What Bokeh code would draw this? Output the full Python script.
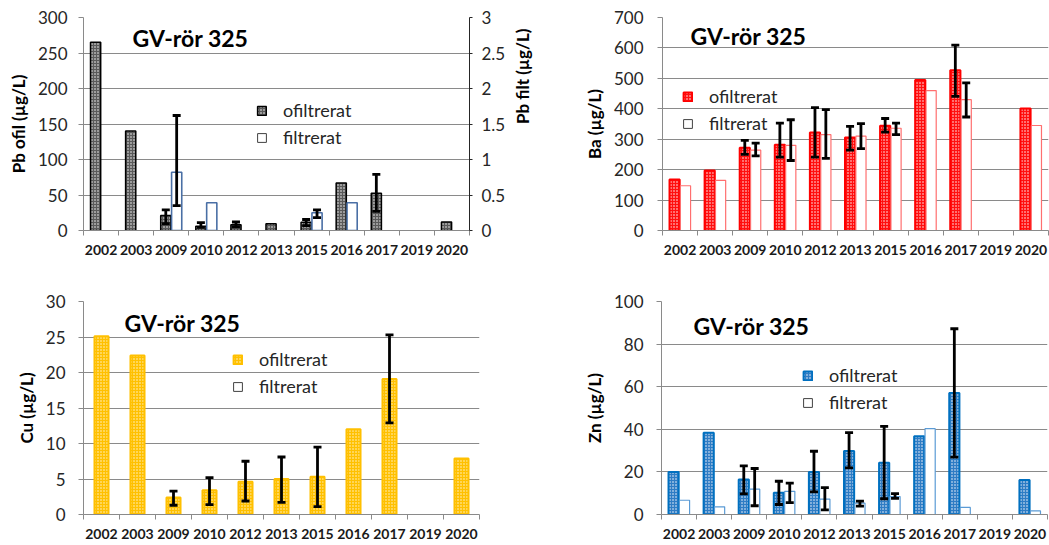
import math
from bokeh.plotting import figure
from bokeh.models import (ColumnDataSource, Range1d, LinearAxis, FixedTicker,
                          CustomJSTickFormatter, NumeralTickFormatter, Whisker,
                          TeeHead, Legend, LegendItem, Label)
from bokeh.layouts import row, column
from bokeh.embed import file_html
from bokeh.resources import INLINE

# ---------------- data ----------------
years = ["2002", "2003", "2009", "2010", "2012", "2013", "2015", "2016", "2017", "2019", "2020"]

pb_ofil = [265, 140, 21, 6, 8, 9.5, 11.5, 67, 52.5, None, 12]
pb_ofil_err = {"2009": (9.5, 29), "2010": (4.5, 11), "2012": (5, 12), "2015": (7, 15.5), "2017": (27, 79)}
pb_filt = [None, None, 0.82, 0.39, None, None, 0.25, 0.39, None, None, None]
pb_filt_err = {"2009": (0.35, 1.62), "2015": (0.18, 0.29)}

ba_ofil = [168, 197, 272, 282, 322, 306, 344, 495, 527, None, 401]
ba_ofil_err = {"2009": (250, 296), "2010": (241, 353), "2012": (241, 404), "2013": (264, 342),
               "2015": (323, 368), "2017": (441, 609)}
ba_filt = [147, 165, 264, 280, 315, 310, 336, 460, 430, None, 345]
ba_filt_err = {"2009": (245, 287), "2010": (230, 364), "2012": (237, 397), "2013": (269, 351),
               "2015": (315, 353), "2017": (373, 485)}

cu_ofil = [25.1, 22.4, 2.4, 3.4, 4.6, 5.0, 5.3, 12.0, 19.1, None, 7.9]
cu_ofil_err = {"2009": (1.3, 3.3), "2010": (1.4, 5.2), "2012": (1.9, 7.5), "2013": (1.7, 8.1),
               "2015": (1.1, 9.5), "2017": (12.9, 25.3)}

zn_ofil = [20, 38.4, 16.4, 10.2, 20, 29.8, 24.3, 36.7, 57, None, 16.2]
zn_ofil_err = {"2009": (9.7, 22.8), "2010": (4.7, 15.6), "2012": (10.6, 29.7), "2013": (21.9, 38.4),
               "2015": (7.4, 41.4), "2017": (26.9, 87.2)}
zn_filt = [6.7, 3.6, 11.9, 10.9, 7.2, 5.3, 8.4, 40.3, 3.3, None, 1.7]
zn_filt_err = {"2009": (4.1, 21.6), "2010": (5.6, 14.7), "2012": (2.2, 12.6), "2013": (3.9, 6.3),
               "2015": (7.6, 9.8)}

title_text = "GV-rör 325"
lbl_ofil = "ofiltrerat"
lbl_filt = "filtrerat"

# ---------------- styling ----------------
FONT = "Lato"
GRID = "#8a8a8a"
TXT = "#262626"
N = len(years)
BAR_W = 0.29
OFF = 0.155


def make_fig(fw, fh, bl, br, bt, bb, ymax, ytick_step, ylabel, label_standoff):
    p = figure(frame_width=fw, frame_height=fh, min_border_left=bl, min_border_right=br,
               min_border_top=bt, min_border_bottom=bb,
               x_range=Range1d(0, N), y_range=Range1d(0, ymax),
               output_backend="svg", toolbar_location=None, tools="")
    p.outline_line_color = None
    p.background_fill_color = "white"
    p.border_fill_color = "white"
    p.xgrid.grid_line_color = None

    yticks = [i * ytick_step for i in range(int(round(ymax / ytick_step)) + 1)]
    yt = FixedTicker(ticks=yticks, minor_ticks=[])
    ya = p.yaxis[0]
    ya.ticker = yt
    p.ygrid[0].ticker = yt
    p.ygrid.grid_line_color = GRID
    ya.axis_line_color = GRID
    ya.major_tick_line_color = GRID
    ya.major_tick_out = 5
    ya.major_tick_in = 0
    ya.minor_tick_line_color = None
    ya.major_label_text_font = FONT
    ya.major_label_text_font_size = "17px"
    ya.major_label_text_color = TXT
    ya.major_label_standoff = label_standoff
    ya.axis_label = ylabel
    ya.axis_label_text_font = FONT
    ya.axis_label_text_font_style = "bold"
    ya.axis_label_text_font_size = "17px"
    ya.axis_label_text_color = "black"
    ya.axis_label_standoff = 6

    xa = p.xaxis[0]
    xa.ticker = FixedTicker(ticks=[i + 0.5 for i in range(N)], minor_ticks=list(range(N + 1)))
    xa.formatter = CustomJSTickFormatter(args=dict(labels=years),
                                         code="return labels[Math.floor(tick)] || '';")
    xa.axis_line_color = GRID
    xa.major_tick_line_color = None
    xa.major_tick_out = 0
    xa.major_tick_in = 0
    xa.minor_tick_line_color = GRID
    xa.minor_tick_out = 5
    xa.minor_tick_in = 0
    xa.major_label_text_font = FONT
    xa.major_label_text_font_style = "bold"
    xa.major_label_text_font_size = "14px"
    xa.major_label_text_color = "#1a1a1a"
    xa.major_label_standoff = 9
    return p


def bars(p, values, offset, width, style, y_range_name="default"):
    xs = [i + 0.5 + offset for i, v in enumerate(values) if v is not None]
    tops = [v for v in values if v is not None]
    src = ColumnDataSource(dict(x=xs, top=tops))
    return p.vbar(x="x", top="top", bottom=0, width=width, source=src,
                  y_range_name=y_range_name, **style)


def errbars(p, errs, offset, y_range_name="default"):
    xs, lo, hi = [], [], []
    for yr, (l, h) in errs.items():
        xs.append(years.index(yr) + 0.5 + offset)
        lo.append(l)
        hi.append(h)
    src = ColumnDataSource(dict(x=xs, lo=lo, hi=hi))
    w = Whisker(source=src, base="x", lower="lo", upper="hi", dimension="height",
                line_color="black", line_width=2.8, level="overlay",
                y_range_name=y_range_name,
                upper_head=TeeHead(size=8, line_width=2.8, line_color="black"),
                lower_head=TeeHead(size=8, line_width=2.8, line_color="black"))
    p.add_layout(w)


def dummy(p, style):
    src = ColumnDataSource(dict(x=[0.5], top=[float("nan")]))
    return p.vbar(x="x", top="top", bottom=0, width=0.1, source=src, **style)


def add_legend(p, r_o, r_f, loc):
    lg = Legend(items=[LegendItem(label=lbl_ofil, renderers=[r_o]),
                       LegendItem(label=lbl_filt, renderers=[r_f])],
                location=loc, orientation="vertical", border_line_color=None,
                background_fill_alpha=0, padding=0, margin=0, spacing=5,
                glyph_width=11, glyph_height=11, label_standoff=16, label_height=21,
                label_text_font=FONT, label_text_font_size="18px", label_text_color=TXT)
    p.add_layout(lg)


def add_title(p, x, y):
    p.add_layout(Label(x=x, y=y, x_units="screen", y_units="screen", text=title_text,
                       text_font=FONT, text_font_style="bold", text_font_size="23px",
                       text_align="center", text_baseline="middle", text_color="black"))


legend_filt_style = dict(fill_color="white", line_color="#404040", line_width=1)

# ---------------- Panel 1: Pb ----------------
p1 = make_fig(386, 213, 83, 76, 17, 55, 300, 50, "Pb ofil (µg/L)", 11)
p1.extra_y_ranges = {"filt": Range1d(0, 3)}
ra = LinearAxis(y_range_name="filt",
                ticker=FixedTicker(ticks=[0, 0.5, 1, 1.5, 2, 2.5, 3], minor_ticks=[]),
                formatter=NumeralTickFormatter(format="0.[0]"))
ra.axis_line_color = "#262626"
ra.major_tick_line_color = "#262626"
ra.major_tick_out = 3
ra.major_tick_in = 0
ra.minor_tick_line_color = None
ra.major_label_text_font = FONT
ra.major_label_text_font_size = "17px"
ra.major_label_text_color = TXT
ra.major_label_standoff = 9
ra.axis_label = "Pb filt (µg/L)"
ra.axis_label_orientation = math.pi / 2
ra.axis_label_text_font = FONT
ra.axis_label_text_font_style = "bold"
ra.axis_label_text_font_size = "17px"
ra.axis_label_text_color = "black"
ra.axis_label_standoff = 14
p1.add_layout(ra, "right")

pb_o_style = dict(fill_color="#5a5a5a", hatch_pattern="dot", hatch_color="white",
                  hatch_scale=3, hatch_weight=1.8, line_color="black", line_width=1.5)
pb_f_style = dict(fill_color="white", line_color="#4a6fa5", line_width=1.6)
r = bars(p1, pb_ofil, -OFF, BAR_W, pb_o_style)
bars(p1, pb_filt, OFF, BAR_W, pb_f_style, y_range_name="filt")
errbars(p1, pb_ofil_err, -OFF)
errbars(p1, pb_filt_err, OFF, y_range_name="filt")
add_legend(p1, r, dummy(p1, legend_filt_style), (173, 82))
add_title(p1, 107, 193)

# ---------------- Panel 2: Ba ----------------
p2 = make_fig(386, 213, 116, 2, 17, 55, 700, 100, "Ba (µg/L)", 14)
ba_o_style = dict(fill_color="#ff1010", hatch_pattern="dot", hatch_color="white",
                  hatch_scale=3, hatch_weight=1.5, line_color="#ff0000", line_width=2)
ba_f_style = dict(fill_color="white", line_color="#ff6f6f", line_width=1.2)
r = bars(p2, ba_ofil, -OFF, BAR_W, ba_o_style)
bars(p2, ba_filt, OFF, BAR_W, ba_f_style)
errbars(p2, ba_ofil_err, -OFF)
errbars(p2, ba_filt_err, OFF)
add_legend(p2, r, dummy(p2, legend_filt_style), (20, 96))
add_title(p2, 86, 195)

# ---------------- Panel 3: Cu ----------------
p3 = make_fig(396, 213, 83, 66, 16, 31, 30, 5, "Cu (µg/L)", 13)
cu_o_style = dict(fill_color="#ffc000", hatch_pattern="dot", hatch_color="#fff6d8",
                  hatch_scale=3, hatch_weight=1.9, line_color="#ffc000", line_width=2)
r = bars(p3, cu_ofil, 0, 0.39, cu_o_style)
errbars(p3, cu_ofil_err, 0)
add_legend(p3, r, dummy(p3, legend_filt_style), (149, 117))
add_title(p3, 99, 192)

# ---------------- Panel 4: Zn ----------------
p4 = make_fig(386, 213, 116, 2, 16, 31, 100, 20, "Zn (µg/L)", 13)
zn_o_style = dict(fill_color="#2f7cc4", hatch_pattern="dot", hatch_color="white",
                  hatch_scale=3, hatch_weight=1.7, line_color="#0070c0", line_width=2)
zn_f_style = dict(fill_color="white", line_color="#5b9bd5", line_width=1.2)
r = bars(p4, zn_ofil, -OFF, BAR_W, zn_o_style)
bars(p4, zn_filt, OFF, BAR_W, zn_f_style)
errbars(p4, zn_ofil_err, -OFF)
errbars(p4, zn_filt_err, OFF)
add_legend(p4, r, dummy(p4, legend_filt_style), (141, 101))
add_title(p4, 90, 189)

layout = column(row(p1, p2), row(p3, p4))
open("out.html", "w").write(file_html(layout, INLINE))
